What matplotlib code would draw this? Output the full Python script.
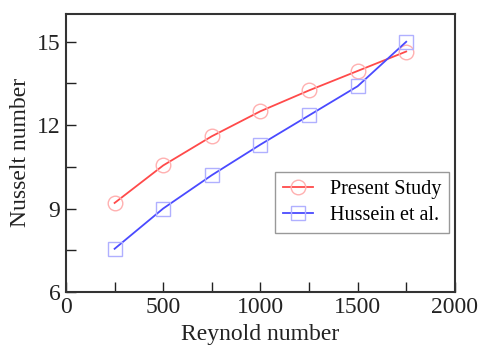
import matplotlib
matplotlib.use("Agg")
import matplotlib.pyplot as plt
from matplotlib.ticker import MultipleLocator

plt.rcParams["font.family"] = ["Liberation Serif", "DejaVu Serif"]

reynolds = [250, 500, 750, 1000, 1250, 1500, 1750]
present_study = [9.2, 10.55, 11.6, 12.5, 13.25, 13.95, 14.65]
hussein = [7.55, 9.0, 10.2, 11.3, 12.35, 13.4, 15.0]

fig = plt.figure(figsize=(4.8, 3.59), dpi=100)
ax = fig.add_axes([0.1375, 0.187, 0.81, 0.774])

ax.plot(reynolds, present_study, color="#ff4a4a", lw=1.3, marker="o",
        ms=10.5, mfc="none", mec="#ffb0b0", mew=1.0, label="Present Study")
ax.plot(reynolds, hussein, color="#4a4aff", lw=1.3, marker="s",
        ms=10.5, mfc="none", mec="#b0b0ff", mew=1.0, label="Hussein et al.")

ax.set_xlim(0, 2000)
ax.set_ylim(6, 16)
ax.xaxis.set_major_locator(MultipleLocator(500))
ax.xaxis.set_minor_locator(MultipleLocator(250))
ax.yaxis.set_major_locator(MultipleLocator(3))
ax.yaxis.set_minor_locator(MultipleLocator(1.5))
ax.tick_params(which="both", direction="in", top=False, right=False,
               labelsize=17, width=1.0, colors="#222222")
ax.tick_params(which="major", length=7, pad=4)
ax.tick_params(which="minor", length=7)
for s in ax.spines.values():
    s.set_linewidth(1.5)
    s.set_color("#333333")

ax.set_xlabel("Reynold number", fontsize=17, color="#222222", labelpad=4)
ax.set_ylabel("Nusselt number", fontsize=17, color="#222222", labelpad=4)

leg = ax.legend(loc="lower right", bbox_to_anchor=(0.985, 0.212), fontsize=14.5,
                fancybox=False, edgecolor="#999999", framealpha=1,
                handlelength=1.5, handletextpad=0.8, borderpad=0.4,
                labelspacing=0.35, borderaxespad=0)
leg.get_frame().set_linewidth(1.0)

fig.savefig("out.png", dpi=100)
